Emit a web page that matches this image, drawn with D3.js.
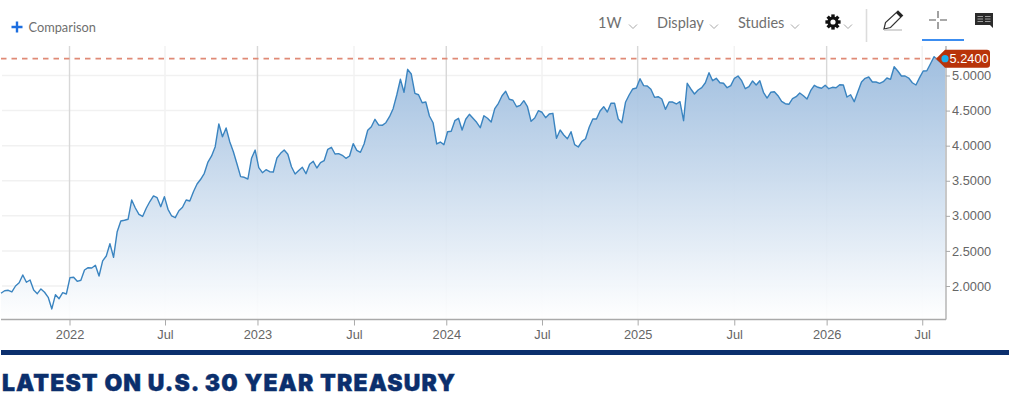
<!DOCTYPE html>
<html><head><meta charset="utf-8">
<script src="https://cdnjs.cloudflare.com/ajax/libs/d3/7.8.5/d3.min.js"></script>
<style>
html,body{margin:0;padding:0;background:#fff;overflow:hidden}
svg{display:block}
text{font-family:"Liberation Sans",Arial,sans-serif}
.tb{font-family:Lato,sans-serif;font-size:14.5px;fill:#6f6f6f}
</style></head><body>
<svg id="c" width="1024" height="403"></svg>
<script>
const yields = [
1.896,1.933,1.939,1.915,2.0,2.047,2.157,2.053,2.086,1.943,
1.891,1.958,1.911,1.839,1.673,1.876,1.819,1.905,1.886,2.119,
2.124,2.067,2.082,2.228,2.261,2.257,2.295,2.143,2.357,2.428,
2.603,2.409,2.774,2.927,2.937,2.951,3.226,3.112,3.022,2.991,
3.108,3.204,3.283,3.259,3.130,3.273,3.093,2.998,2.974,3.073,
3.122,3.226,3.212,3.344,3.454,3.521,3.606,3.767,3.853,3.985,
4.309,4.128,4.252,4.057,3.914,3.739,3.558,3.549,3.525,3.820,
3.938,3.686,3.615,3.658,3.629,3.625,3.824,3.891,3.938,3.877,
3.700,3.596,3.646,3.692,3.601,3.735,3.777,3.682,3.757,3.786,
3.948,3.977,3.881,3.886,3.863,3.820,3.853,4.028,3.934,3.906,
4.024,4.219,4.270,4.376,4.295,4.290,4.327,4.413,4.527,4.722,
4.946,4.761,5.088,5.021,4.746,4.726,4.612,4.622,4.423,4.327,
4.024,4.052,4.014,4.199,4.205,4.356,4.390,4.223,4.376,4.447,
4.390,4.333,4.256,4.427,4.390,4.337,4.527,4.604,4.712,4.775,
4.661,4.647,4.555,4.575,4.641,4.555,4.347,4.394,4.498,4.476,
4.399,4.451,4.461,4.105,4.223,4.152,4.099,4.199,4.014,3.981,
4.062,4.099,4.262,4.380,4.380,4.494,4.555,4.480,4.604,4.604,
4.380,4.327,4.618,4.722,4.808,4.822,4.954,4.855,4.850,4.803,
4.689,4.698,4.665,4.518,4.622,4.622,4.594,4.627,4.356,4.889,
4.808,4.736,4.793,4.826,4.897,5.040,4.926,4.960,4.897,4.889,
4.826,4.855,4.960,4.993,4.926,4.812,4.840,4.922,4.865,4.926,
4.761,4.679,4.761,4.769,4.712,4.632,4.598,4.590,4.669,4.698,
4.751,4.712,4.665,4.783,4.860,4.832,4.818,4.860,4.812,4.832,
4.826,4.869,4.865,4.694,4.726,4.627,4.769,4.907,4.960,4.979,
4.907,4.907,4.889,4.912,4.964,4.946,5.125,5.064,4.993,4.993,
4.964,4.897,4.865,4.969,5.064,5.068,5.168,5.268,5.221,5.182,
5.24];
const lastValue = 5.24;
const xTickWeeks = [18.87,45.17,70.64,97.22,122.64,149,175.35,201.96,227.4,253.73];
const xTickLabels = ["2022","Jul","2023","Jul","2024","Jul","2025","Jul","2026","Jul"];
const yTicks = [2,2.5,3,3.5,4,4.5,5];
const toolbarLabels = ["1W","Display","Studies"];

const svg = d3.select("#c");
const L=1,R=946,T=46,B=319.5;
const x = d3.scaleLinear().domain([0,yields.length-1]).range([1,945]);
const y = d3.scaleLinear().domain([2,5]).range([286,75.5]);

const defs = svg.append("defs");
const g = defs.append("linearGradient").attr("id","fill")
 .attr("gradientUnits","userSpaceOnUse").attr("x1",0).attr("x2",0).attr("y1",y(5.24)).attr("y2",B);
g.append("stop").attr("offset",0).attr("stop-color","#9cbcde");
g.append("stop").attr("offset",1).attr("stop-color","#ffffff");

svg.append("g").selectAll("line").data(yTicks).join("line")
 .attr("x1",L+1).attr("x2",R).attr("y1",d=>y(d)).attr("y2",d=>y(d))
 .attr("stroke","#f1f1f1").attr("stroke-width",1.5);
svg.append("g").selectAll("line").data(xTickWeeks).join("line")
 .attr("x1",d=>x(d)).attr("x2",d=>x(d)).attr("y1",T).attr("y2",B)
 .attr("stroke",(d,i)=>i%2===0?"#d8d8d8":"#f2f2f2").attr("stroke-width",(d,i)=>i%2===0?1.4:1.5);

svg.append("path").datum(yields)
 .attr("d",d3.area().x((d,i)=>x(i)).y0(B).y1(d=>y(d)))
 .attr("fill","url(#fill)").attr("fill-opacity",0.95);
svg.append("path").datum(yields)
 .attr("d",d3.line().x((d,i)=>x(i)).y(d=>y(d)))
 .attr("fill","none").attr("stroke","#3a84c0").attr("stroke-width",1.4).attr("stroke-linejoin","round");

svg.append("line").attr("x1",1).attr("x2",945).attr("y1",y(lastValue)).attr("y2",y(lastValue))
 .attr("stroke","#e08a76").attr("stroke-width",1.6).attr("stroke-dasharray","5.5,5");

const ax = svg.append("g").attr("transform",`translate(0,${B})`)
 .call(d3.axisBottom(x).tickValues(xTickWeeks).tickFormat((d,i)=>xTickLabels[i]).tickSize(6).tickPadding(4));
const ay = svg.append("g").attr("transform",`translate(${R},0)`)
 .call(d3.axisRight(y).tickValues(yTicks).tickFormat(d3.format(".4f")).tickSize(4).tickPadding(2));
[ax,ay].forEach(a=>{
 a.selectAll("text").attr("fill","#666").style("font-size","12.8px").style("font-family",'"Liberation Sans",Arial,sans-serif');
 a.selectAll(".tick line").attr("stroke","#aaa");
 a.select(".domain").remove();
});
svg.append("line").attr("x1",L).attr("x2",R).attr("y1",B).attr("y2",B).attr("stroke","#aaa").attr("stroke-width",1.3);
svg.append("line").attr("x1",R).attr("x2",R).attr("y1",T).attr("y2",B).attr("stroke","#aaa").attr("stroke-width",1.3);

const ly=y(lastValue);
svg.append("path").attr("d",`M936,${ly} L945,${ly-9} L987,${ly-9} Q990,${ly-9} 990,${ly-6} L990,${ly+6} Q990,${ly+9} 987,${ly+9} L945,${ly+9} Z`)
 .attr("fill","#b8330a");
svg.append("circle").attr("cx",945).attr("cy",ly).attr("r",3.6).attr("fill","#1fb0ee");
svg.append("text").attr("x",949.5).attr("y",ly+4.8).attr("fill","#fff").style("font-size","12.8px").text(d3.format(".4f")(lastValue));

svg.append("path").attr("d","M11.5,27H22.5M17,21.5V32.5").attr("stroke","#1c6ee0").attr("stroke-width",2.4).attr("fill","none");
svg.append("text").attr("x",28.5).attr("y",32).attr("class","tb").style("font-size","12.8px").text("Comparison");

const tbX=[598,657,738], chev=[633,714,795,848];
svg.append("g").selectAll("text").data(toolbarLabels).join("text")
 .attr("class","tb").attr("x",(d,i)=>tbX[i]).attr("y",28).text(d=>d);
svg.append("g").selectAll("path").data(chev).join("path")
 .attr("d",d=>`M${d-4},24.5L${d},28.5L${d+4},24.5`).attr("fill","none").attr("stroke","#a8a8a8").attr("stroke-width",1);
const gear=svg.append("g").attr("transform","translate(833,22)");
gear.selectAll("rect").data(d3.range(8)).join("rect").attr("x",-1.7).attr("y",-7.6).attr("width",3.4).attr("height",3.6).attr("fill","#111").attr("transform",d=>`rotate(${d*45})`);
gear.append("circle").attr("r",4.1).attr("fill","none").attr("stroke","#111").attr("stroke-width",3);
svg.append("line").attr("x1",866.5).attr("x2",866.5).attr("y1",9).attr("y2",42).attr("stroke","#dcdcdc").attr("stroke-width",1.6);
svg.append("path").attr("d","M884,29 L885.5,22.5 L898,11 L902.5,15.5 L890.5,27.5 Z").attr("fill","none").attr("stroke","#333").attr("stroke-width",1.2);
svg.append("path").attr("d","M896,13 L898,11 L902.5,15.5 L900.5,17.5 Z").attr("fill","#222");
svg.append("line").attr("x1",884).attr("x2",902).attr("y1",30).attr("y2",30).attr("stroke","#bbb").attr("stroke-width",1.2);
svg.append("path").attr("d","M929,20H936M940,20H947M938,11V18M938,22V29").attr("stroke","#555").attr("stroke-width",1.1).attr("fill","none");
svg.append("line").attr("x1",922).attr("x2",964).attr("y1",40).attr("y2",40).attr("stroke","#3c8df0").attr("stroke-width",2);
svg.append("path").attr("d","M975,13H993V28L990,25H975Z").attr("fill","#2b2b2b");
svg.append("path").attr("d","M977.5,16.5H983M977.5,19H983M977.5,21.5H983M985,16.5H990.5M985,19H990.5M985,21.5H990.5").attr("stroke","#bbb").attr("stroke-width",0.8);

svg.append("rect").attr("x",1).attr("y",350).attr("width",1008).attr("height",5).attr("fill","#0b2f6d");
svg.append("text").attr("x",2).attr("y",390.5).attr("fill","#0b2f6d").attr("stroke","#0b2f6d").attr("stroke-width",0.4)
 .style("font-family","Inter,Roboto,sans-serif").style("font-weight",900).style("font-size","23px")
 .attr("textLength",453).attr("lengthAdjust","spacing").text("LATEST ON U.S. 30 YEAR TREASURY");
</script>
</body></html>
